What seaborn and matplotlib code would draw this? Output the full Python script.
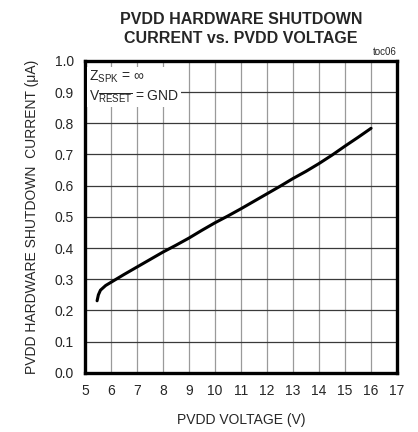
import matplotlib
matplotlib.use("Agg")
import matplotlib.pyplot as plt
import seaborn as sns
import pandas as pd

# valeurs
pvdd_v = [5.47, 5.52, 5.6, 5.8, 6.0, 6.5, 7.0, 7.5, 8.0, 8.5, 9.0, 9.5, 10.0,
          10.5, 11.0, 11.5, 12.0, 12.5, 13.0, 13.5, 14.0, 14.5, 15.0, 15.5, 16.0]
shutdown_ua = [0.231, 0.250, 0.265, 0.280, 0.290, 0.315, 0.339, 0.363, 0.387,
               0.409, 0.432, 0.457, 0.481, 0.503, 0.526, 0.550, 0.574, 0.598,
               0.623, 0.646, 0.671, 0.698, 0.727, 0.755, 0.784]
x_ticks = list(range(5, 18))
y_ticks = [i / 10 for i in range(0, 11)]

df = pd.DataFrame({"v": pvdd_v, "i": shutdown_ua})

sns.set_style("white")
plt.rcParams["font.family"] = ["Liberation Sans", "DejaVu Sans"]
plt.rcParams["mathtext.fontset"] = "custom"
plt.rcParams["mathtext.rm"] = "Liberation Sans"
plt.rcParams["mathtext.it"] = "Liberation Sans"

fig = plt.figure(figsize=(4.18, 4.32), dpi=100)
ax = fig.add_axes([0.203, 0.137, 0.747, 0.722])

for x in x_ticks[1:-1]:
    ax.axvline(x, color="#9a9a9a", lw=0.9, zorder=1)
for y in y_ticks[1:-1]:
    ax.axhline(y, color="#3a3a3a", lw=0.9, zorder=1)

sns.lineplot(data=df, x="v", y="i", color="black", lw=2.2, ax=ax, zorder=3)

ax.set_xlim(5, 17)
ax.set_ylim(0, 1.0)
ax.set_xticks(x_ticks)
ax.set_yticks(y_ticks)
ax.set_yticklabels([f"{y:.1f}" for y in y_ticks])
ax.tick_params(length=0, labelsize=10, pad=8)
for s in ax.spines.values():
    s.set_linewidth(2.4)
    s.set_color("black")
    s.set_visible(True)

ax.set_xlabel("PVDD VOLTAGE (V)", fontsize=10, labelpad=11)
ax.set_ylabel("PVDD HARDWARE SHUTDOWN  CURRENT (\u03bcA)", fontsize=10, labelpad=11)
ax.set_title("PVDD HARDWARE SHUTDOWN\nCURRENT vs. PVDD VOLTAGE",
             fontsize=11.5, fontweight="bold", pad=13, linespacing=1.3)

ax.text(0.012, 0.975, "Z$_{\\mathregular{SPK}}$ = \u221e\nV$_{\\mathregular{\\overline{RESET}}}$ = GND",
        transform=ax.transAxes, ha="left", va="top", fontsize=10, linespacing=1.25,
        zorder=4, bbox=dict(facecolor="white", edgecolor="none", pad=1.5))
ax.text(1.0, 1.012, "toc06", transform=ax.transAxes, ha="right", va="bottom", fontsize=7)

fig.savefig("out.png", dpi=100)
